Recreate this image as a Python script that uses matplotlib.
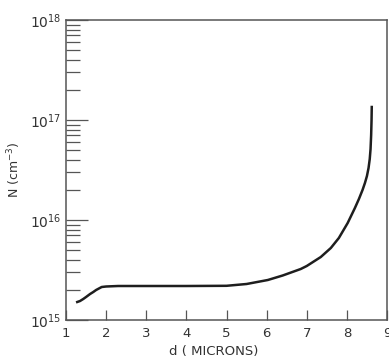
import matplotlib
matplotlib.use("Agg")
import matplotlib.pyplot as plt
from matplotlib.ticker import FixedLocator, NullFormatter

# depth in microns and doping level (log10 of N in cm^-3)
depth = [1.28, 1.35, 1.43, 1.5, 1.6, 1.68, 1.75, 1.89, 2.0, 2.3, 3.0, 4.0, 5.0, 5.5, 6.03, 6.4,
         6.85, 7.0, 7.35, 7.6, 7.8, 8.02, 8.2, 8.3, 8.39, 8.45, 8.5, 8.54, 8.57, 8.59, 8.605, 8.615, 8.62]
log_n = [15.18, 15.19, 15.21, 15.23, 15.26, 15.28, 15.30, 15.33, 15.335, 15.34, 15.34, 15.34, 15.342, 15.36, 15.40, 15.445,
         15.51, 15.54, 15.63, 15.72, 15.82, 15.97, 16.12, 16.21, 16.30, 16.37, 16.44, 16.52, 16.61, 16.71, 16.85, 17.0, 17.13]

x_ticks = [1, 2, 3, 4, 5, 6, 7, 8, 9]
y_major = [1e15, 1e16, 1e17, 1e18]
y_labels = ["$10^{15}$", "$10^{16}$", "$10^{17}$", "$10^{18}$"]

n_values = [10 ** v for v in log_n]
y_minor = [m * d for d in [1e15, 1e16, 1e17] for m in range(2, 10)]

fig = plt.figure(figsize=(3.89, 3.57), dpi=100)
ax = fig.add_axes([66 / 389, 37 / 357, 321 / 389, 300 / 357])

ax.plot(depth, n_values, color="#1e1e1e", lw=1.8)

ax.set_yscale("log")
ax.set_xlim(1, 9)
ax.set_ylim(1e15, 1e18)

ax.xaxis.set_major_locator(FixedLocator(x_ticks))
ax.set_xticklabels([str(t) for t in x_ticks], color="#333333", fontsize=9.5)
ax.yaxis.set_major_locator(FixedLocator(y_major))
ax.set_yticklabels(y_labels, color="#333333", fontsize=10)
ax.yaxis.set_minor_locator(FixedLocator(y_minor))
ax.yaxis.set_minor_formatter(NullFormatter())

ax.tick_params(axis="x", direction="in", length=7, width=0.9, color="#555555", pad=5)
ax.tick_params(axis="y", which="major", direction="in", length=16, width=0.9, color="#555555", pad=3)
ax.tick_params(axis="y", which="minor", direction="in", length=10, width=0.9, color="#555555")

for s in ax.spines.values():
    s.set_color("#555555")
    s.set_linewidth(1.1)

ax.set_xlabel("d ( MICRONS)", color="#333333", fontsize=9.5)
ax.xaxis.set_label_coords(0.46, -0.085)
ax.set_ylabel("N (cm$^{-3}$)", color="#333333", fontsize=9)
ax.yaxis.set_label_coords(-0.135, 0.5)

fig.savefig("out.png", dpi=100)
